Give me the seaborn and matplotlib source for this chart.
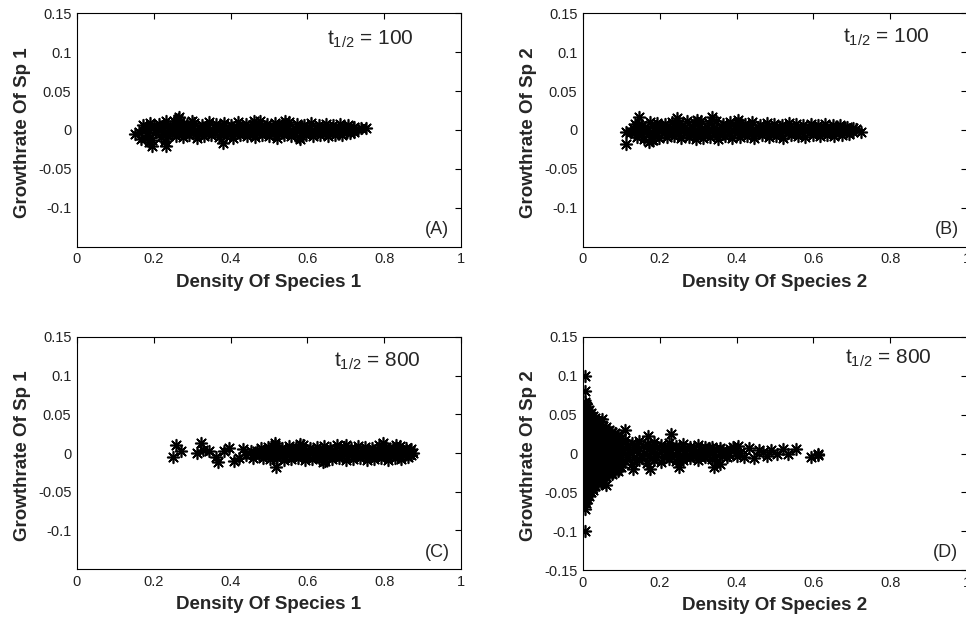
import matplotlib
matplotlib.use('Agg')
import matplotlib.pyplot as plt
import seaborn as sns
import pandas as pd

# panel A : species 1, t1/2 = 100
a_x = [0.172,0.191,0.214,0.233,0.252,0.268,0.287,0.305,0.326,0.344,0.363,0.382,0.401,0.420,0.439,0.458,0.477,0.496,0.515,0.534,0.553,0.572,0.591,0.610,0.629,0.648,0.667,0.686,0.705,0.722,
       0.181,0.200,0.223,0.243,0.262,0.284,0.302,0.321,0.340,0.359,0.378,0.397,0.416,0.435,0.454,0.473,0.492,0.511,0.530,0.549,0.568,0.587,0.606,0.625,0.644,0.663,0.682,0.701,0.720,0.740,
       0.161,0.182,0.203,0.222,0.242,0.261,0.279,0.297,0.316,0.335,0.354,0.372,0.391,0.410,0.429,0.448,0.467,0.486,0.505,0.524,0.543,0.562,0.581,0.600,0.619,0.638,0.657,0.676,0.695,0.714,0.733,0.752,
       0.186,0.207,0.228,0.247,0.266,0.284,0.303,0.322,0.341,0.360,0.379,0.398,0.417,0.436,0.455,0.474,0.493,0.512,0.531,0.550,0.569,0.588,0.607,0.626,0.645,0.664,0.683,0.702,0.721,
       0.176,0.196,0.218,0.238,0.257,0.275,0.293,0.312,0.331,0.350,0.369,0.387,0.406,0.425,0.444,0.463,0.482,0.501,0.520,0.539,0.558,0.577,0.596,0.615,0.634,0.653,0.672,0.691,0.710,
       0.150,0.168,0.188,0.195,0.228,0.232,0.262,0.266,0.381,0.582,0.462,0.542,0.300]
a_y = [0.007,0.009,0.008,0.011,0.012,0.010,0.008,0.009,0.007,0.010,0.008,0.009,0.007,0.010,0.008,0.007,0.011,0.008,0.009,0.007,0.010,0.008,0.007,0.009,0.006,0.008,0.007,0.008,0.006,0.004,
       0.003,0.004,0.002,0.004,0.003,0.005,0.003,0.002,0.004,0.003,0.005,0.002,0.003,0.004,0.003,0.002,0.004,0.003,0.005,0.003,0.002,0.004,0.003,0.002,0.004,0.003,0.002,0.003,0.002,0.003,
       -0.003,0.001,-0.002,0.002,0.000,-0.001,0.001,0.000,-0.002,0.001,0.000,0.002,-0.001,0.000,0.001,-0.001,0.000,0.002,-0.001,0.001,0.000,-0.002,0.001,0.000,-0.001,0.001,0.000,-0.001,0.002,0.000,0.001,0.002,
       -0.004,-0.003,-0.005,-0.003,-0.002,-0.004,-0.003,-0.002,-0.004,-0.003,-0.003,-0.004,-0.002,-0.003,-0.004,-0.003,-0.002,-0.004,-0.003,-0.003,-0.004,-0.002,-0.003,-0.004,-0.002,-0.003,-0.002,-0.003,-0.002,
       -0.010,-0.013,-0.009,-0.008,-0.008,-0.009,-0.007,-0.010,-0.008,-0.007,-0.009,-0.008,-0.010,-0.007,-0.008,-0.009,-0.007,-0.008,-0.010,-0.007,-0.008,-0.009,-0.007,-0.008,-0.006,-0.008,-0.007,-0.006,-0.004,
       -0.005,-0.012,-0.016,-0.020,-0.014,-0.021,0.014,0.017,-0.017,-0.012,0.012,0.012,0.012]

# panel B : species 2, t1/2 = 100
b_x = [0.135,0.154,0.175,0.194,0.213,0.232,0.251,0.270,0.289,0.308,0.327,0.346,0.365,0.384,0.403,0.422,0.441,0.460,0.479,0.498,0.517,0.536,0.555,0.574,0.593,0.612,0.631,0.650,0.669,0.688,
       0.130,0.150,0.170,0.189,0.208,0.227,0.246,0.265,0.284,0.303,0.322,0.341,0.360,0.379,0.398,0.417,0.436,0.455,0.474,0.493,0.512,0.531,0.550,0.569,0.588,0.607,0.626,0.645,0.664,0.683,0.702,
       0.125,0.145,0.165,0.184,0.203,0.222,0.241,0.260,0.279,0.298,0.317,0.336,0.355,0.374,0.393,0.412,0.431,0.450,0.469,0.488,0.507,0.526,0.545,0.564,0.583,0.602,0.621,0.640,0.659,0.678,0.697,0.712,
       0.133,0.152,0.172,0.191,0.210,0.229,0.248,0.267,0.286,0.305,0.324,0.343,0.362,0.381,0.400,0.419,0.438,0.457,0.476,0.495,0.514,0.533,0.552,0.571,0.590,0.609,0.628,0.647,0.666,0.685,0.704,
       0.140,0.160,0.180,0.199,0.218,0.237,0.256,0.275,0.294,0.313,0.332,0.351,0.370,0.389,0.408,0.427,0.446,0.465,0.484,0.503,0.522,0.541,0.560,0.579,0.598,0.617,0.636,0.655,0.674,0.693,
       0.113,0.113,0.145,0.172,0.183,0.245,0.335,0.725,0.296,0.405]
b_y = [0.008,0.007,0.010,0.009,0.008,0.010,0.009,0.011,0.010,0.012,0.009,0.011,0.008,0.010,0.009,0.008,0.010,0.007,0.009,0.008,0.007,0.009,0.008,0.006,0.008,0.007,0.008,0.006,0.006,0.004,
       0.003,0.004,0.003,0.005,0.004,0.003,0.005,0.004,0.003,0.005,0.004,0.003,0.004,0.005,0.003,0.004,0.003,0.004,0.003,0.002,0.004,0.003,0.003,0.002,0.004,0.003,0.002,0.003,0.002,0.003,0.002,
       -0.002,0.001,-0.001,0.000,0.002,-0.001,0.000,0.001,-0.002,0.000,0.001,-0.001,0.000,0.002,-0.001,0.000,0.001,-0.002,0.000,0.001,-0.001,0.000,0.001,-0.001,0.000,0.002,-0.001,0.000,0.001,-0.001,0.000,0.001,
       -0.004,-0.005,-0.004,-0.003,-0.004,-0.005,-0.003,-0.004,-0.005,-0.004,-0.003,-0.004,-0.005,-0.003,-0.004,-0.003,-0.004,-0.003,-0.004,-0.003,-0.002,-0.004,-0.003,-0.003,-0.002,-0.004,-0.003,-0.002,-0.003,-0.002,-0.002,
       -0.009,-0.011,-0.013,-0.010,-0.009,-0.008,-0.010,-0.009,-0.012,-0.010,-0.009,-0.011,-0.008,-0.010,-0.009,-0.008,-0.010,-0.007,-0.009,-0.008,-0.010,-0.007,-0.008,-0.009,-0.007,-0.008,-0.006,-0.008,-0.006,-0.005,
       -0.003,-0.018,0.017,-0.015,-0.013,0.015,0.017,-0.002,0.013,0.013]

# panel C : species 1, t1/2 = 800
c_x = [0.480,0.498,0.516,0.534,0.552,0.570,0.588,0.606,0.624,0.642,0.660,0.678,0.696,0.714,0.732,0.750,0.768,0.786,0.804,0.822,0.840,0.858,0.870,
       0.470,0.489,0.507,0.525,0.543,0.561,0.579,0.597,0.615,0.633,0.651,0.669,0.687,0.705,0.723,0.741,0.759,0.777,0.795,0.813,0.831,0.849,0.866,
       0.462,0.479,0.497,0.515,0.533,0.551,0.569,0.587,0.605,0.623,0.641,0.659,0.677,0.695,0.713,0.731,0.749,0.767,0.785,0.803,0.821,0.839,0.857,0.875,
       0.474,0.493,0.511,0.529,0.547,0.565,0.583,0.601,0.619,0.637,0.655,0.673,0.691,0.709,0.727,0.745,0.763,0.781,0.799,0.817,0.835,0.853,0.870,
       0.485,0.503,0.521,0.539,0.557,0.575,0.593,0.611,0.629,0.647,0.665,0.683,0.701,0.719,0.737,0.755,0.773,0.791,0.809,0.827,0.845,0.863,
       0.250,0.258,0.270,0.312,0.322,0.328,0.345,0.362,0.368,0.382,0.396,0.410,0.422,0.432,0.441,0.452,0.458,0.515,0.518,0.580,0.640,0.700,0.797,0.830]
c_y = [0.006,0.008,0.010,0.007,0.009,0.008,0.010,0.007,0.008,0.009,0.007,0.010,0.008,0.007,0.009,0.008,0.007,0.010,0.008,0.007,0.009,0.007,0.005,
       0.003,0.002,0.004,0.003,0.002,0.004,0.003,0.002,0.004,0.003,0.003,0.002,0.004,0.003,0.002,0.004,0.003,0.002,0.004,0.003,0.002,0.003,0.002,
       0.000,-0.001,0.001,0.000,-0.001,0.001,0.000,-0.002,0.001,0.000,-0.001,0.001,0.000,-0.001,0.001,0.000,-0.001,0.001,0.000,-0.001,0.001,0.000,0.001,0.000,
       -0.003,-0.002,-0.004,-0.003,-0.002,-0.004,-0.003,-0.003,-0.002,-0.004,-0.003,-0.002,-0.004,-0.003,-0.002,-0.003,-0.004,-0.002,-0.003,-0.004,-0.002,-0.003,-0.002,
       -0.006,-0.008,-0.007,-0.009,-0.008,-0.007,-0.009,-0.008,-0.007,-0.010,-0.008,-0.007,-0.009,-0.008,-0.007,-0.009,-0.008,-0.007,-0.009,-0.007,-0.008,-0.005,
       -0.005,0.010,0.002,0.000,0.013,0.004,0.002,-0.005,-0.011,0.003,0.006,-0.010,-0.007,0.005,-0.003,0.003,-0.006,0.013,-0.018,0.012,-0.011,0.010,0.013,0.010]

# panel D : species 2, t1/2 = 800
d_x = ([0.004]*21 + [0.007]*17 + [0.011]*16 + [0.016]*15 + [0.020]*14 + [0.026]*13 + [0.032]*12 + [0.039]*11
       + [0.046]*11 + [0.053]*10 + [0.060]*9 + [0.067]*8 + [0.075]*8 + [0.083]*7 + [0.092]*7 + [0.100]*6 + [
       0.110,0.128,0.147,0.166,0.185,0.204,0.223,0.242,0.261,0.280,0.299,0.318,0.337,0.356,
       0.118,0.137,0.156,0.175,0.194,0.213,0.232,0.251,0.270,0.289,0.308,0.327,0.346,0.365,0.384,
       0.105,0.122,0.140,0.158,0.176,0.194,0.212,0.230,0.248,0.266,0.284,0.302,0.320,0.338,0.356,0.374,0.392,0.410,
       0.115,0.134,0.153,0.172,0.191,0.210,0.229,0.248,0.267,0.286,0.305,0.324,0.343,0.362,0.381,0.400,
       0.110,0.128,0.147,0.166,0.185,0.204,0.223,0.242,0.261,0.280,0.299,0.318,0.337,0.356,0.375,
       0.390,0.405,0.420,0.432,0.445,0.458,0.470,0.478,0.490,0.505,0.520,0.535,0.555,0.595,0.612,0.613,
       0.110,0.170,0.230,0.050,0.060,0.130,0.175,0.250,0.340])
d_y = [0.100,0.080,0.066,0.058,0.050,0.042,0.034,0.026,0.018,0.010,0.002,-0.006,-0.014,-0.022,-0.030,-0.038,-0.046,-0.054,-0.060,-0.072,-0.100,
       0.064,0.056,0.048,0.040,0.032,0.024,0.016,0.008,0.000,-0.008,-0.016,-0.024,-0.032,-0.040,-0.048,-0.056,-0.064,
       0.060,0.052,0.044,0.036,0.028,0.020,0.012,0.004,-0.004,-0.012,-0.020,-0.028,-0.036,-0.044,-0.052,-0.058,
       0.056,0.048,0.040,0.032,0.024,0.016,0.008,0.000,-0.008,-0.016,-0.024,-0.032,-0.040,-0.048,-0.055,
       0.052,0.044,0.036,0.028,0.020,0.012,0.004,-0.004,-0.012,-0.020,-0.028,-0.036,-0.044,-0.050,
       0.048,0.040,0.032,0.024,0.016,0.008,0.000,-0.008,-0.016,-0.024,-0.032,-0.040,-0.047,
       0.046,0.038,0.030,0.022,0.014,0.006,-0.002,-0.010,-0.018,-0.026,-0.034,-0.042,
       0.042,0.034,0.026,0.018,0.010,0.002,-0.006,-0.014,-0.022,-0.030,-0.038,
       0.040,0.032,0.024,0.016,0.008,0.000,-0.008,-0.016,-0.024,-0.032,-0.038,
       0.036,0.028,0.020,0.012,0.004,-0.004,-0.012,-0.020,-0.028,-0.034,
       0.034,0.026,0.018,0.010,0.002,-0.006,-0.014,-0.022,-0.030,
       0.030,0.022,0.014,0.006,-0.002,-0.010,-0.018,-0.026,
       0.028,0.020,0.012,0.004,-0.004,-0.012,-0.020,-0.026,
       0.026,0.018,0.010,0.002,-0.006,-0.014,-0.022,
       0.024,0.016,0.008,0.000,-0.008,-0.016,-0.022,
       0.020,0.012,0.004,-0.004,-0.012,-0.018,
       0.018,0.014,0.016,0.012,0.015,0.011,0.013,0.010,0.012,0.009,0.011,0.008,0.009,0.007,
       0.009,0.008,0.010,0.007,0.009,0.006,0.008,0.007,0.006,0.008,0.005,0.007,0.006,0.005,0.006,
       0.004,0.002,0.005,0.001,0.003,0.000,0.004,0.002,0.001,0.003,0.000,0.002,0.001,0.003,0.000,0.002,0.004,0.001,
       -0.005,-0.004,-0.006,-0.003,-0.005,-0.004,-0.003,-0.005,-0.004,-0.003,-0.004,-0.002,-0.004,-0.003,-0.002,-0.003,
       -0.010,-0.014,-0.009,-0.012,-0.008,-0.011,-0.007,-0.010,-0.008,-0.006,-0.009,-0.005,-0.007,-0.013,-0.004,
       0.008,0.010,-0.004,0.007,-0.006,0.005,0.002,-0.003,0.004,0.000,0.006,-0.001,0.006,-0.004,0.000,-0.002,
       0.030,0.022,0.025,0.045,-0.040,-0.020,-0.020,-0.018,-0.017]

x_labels = ['Density Of Species 1', 'Density Of Species 2', 'Density Of Species 1', 'Density Of Species 2']
y_labels = ['Growthrate Of Sp 1', 'Growthrate Of Sp 2', 'Growthrate Of Sp 1', 'Growthrate Of Sp 2']
half_lives = ['100', '100', '800', '800']
panel_tags = ['(A)', '(B)', '(C)', '(D)']

sns.set_style('white')
plt.rcParams['font.family'] = ['Liberation Sans', 'DejaVu Sans']
plt.rcParams['mathtext.fontset'] = 'custom'
plt.rcParams['mathtext.rm'] = 'Liberation Sans'
plt.rcParams['mathtext.it'] = 'Liberation Sans'
plt.rcParams['axes.unicode_minus'] = False

fig = plt.figure(figsize=(9.66, 6.22), dpi=100)
boxes = [[0.0797, 0.603, 0.3975, 0.376],
         [0.6035, 0.603, 0.3975, 0.376],
         [0.0797, 0.0852, 0.3975, 0.373],
         [0.6035, 0.0836, 0.3975, 0.3746]]
data = [(a_x, a_y), (b_x, b_y), (c_x, c_y), (d_x, d_y)]
t_pos = [(0.651, 0.863), (0.677, 0.872), (0.669, 0.871), (0.682, 0.884)]
tag_pos = [0.905, 0.917, 0.906, 0.911]

for i in range(4):
    ax = fig.add_axes(boxes[i])
    df = pd.DataFrame({'x': data[i][0], 'y': data[i][1]})
    sns.scatterplot(data=df, x='x', y='y', ax=ax, marker=(8, 2, 0), color='k',
                    s=70, linewidth=1.2, legend=False)
    ax.set_xlim(0, 1)
    ax.set_ylim(-0.15, 0.15)
    ax.set_xticks([0, 0.2, 0.4, 0.6, 0.8, 1])
    ax.set_xticklabels(['0', '0.2', '0.4', '0.6', '0.8', '1'])
    if i == 3:
        yt = [-0.15, -0.1, -0.05, 0, 0.05, 0.1, 0.15]
    else:
        yt = [-0.1, -0.05, 0, 0.05, 0.1, 0.15]
    ax.set_yticks(yt)
    ax.set_yticklabels(['%g' % v for v in yt])
    ax.tick_params(direction='in', top=True, right=True, length=4, width=0.8,
                   labelsize=10.5, labelcolor='#222222', pad=4, color='k')
    for sp in ax.spines.values():
        sp.set_color('k')
        sp.set_linewidth(0.8)
    ax.set_xlabel(x_labels[i], fontsize=13.5, fontweight='bold')
    ax.set_ylabel(y_labels[i], fontsize=13.5, fontweight='bold')
    ax.xaxis.set_label_coords(0.5, -0.115)
    ax.yaxis.set_label_coords(-0.12, 0.49)
    ax.text(t_pos[i][0], t_pos[i][1], r'$\mathrm{t}_{1/2}$ = ' + half_lives[i],
            transform=ax.transAxes, fontsize=15, ha='left', va='baseline')
    ax.text(tag_pos[i], 0.073, panel_tags[i], transform=ax.transAxes,
            fontsize=13, ha='left', va='center')

fig.savefig('out.png', dpi=100)
